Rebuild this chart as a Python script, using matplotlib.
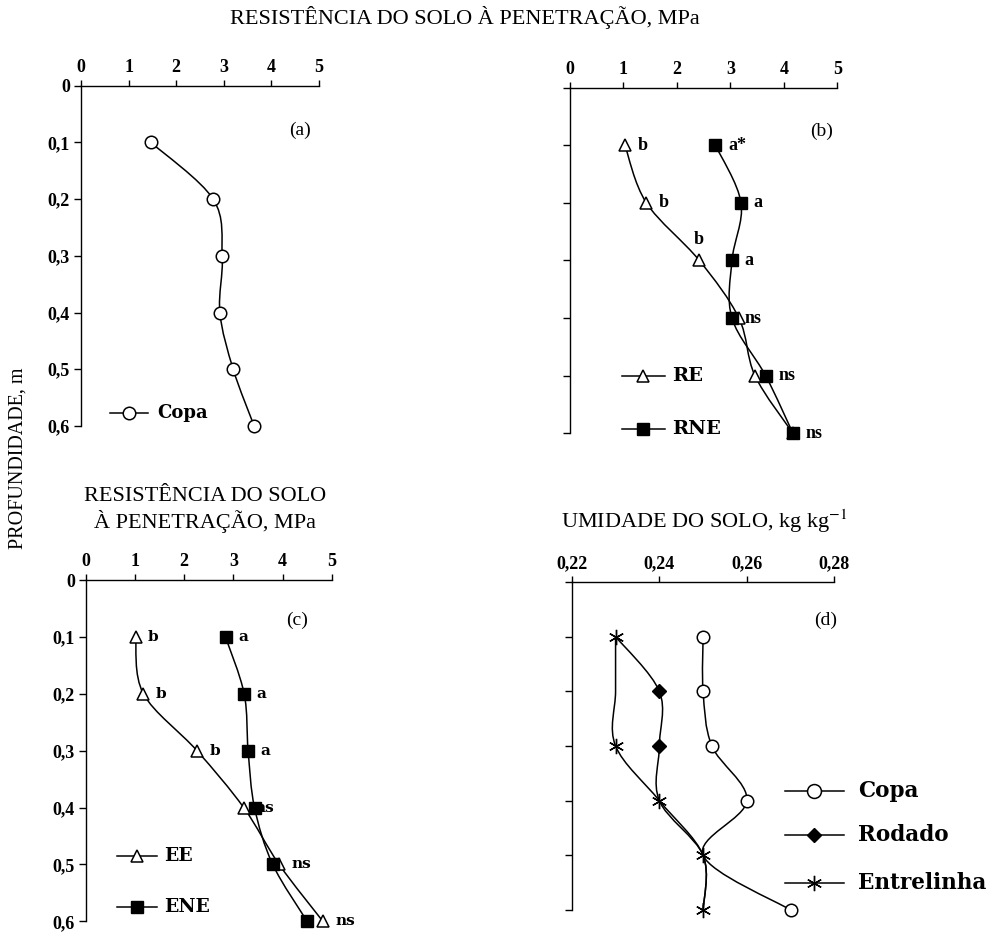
import matplotlib
matplotlib.use('Agg')
import matplotlib.pyplot as plt
from matplotlib.path import Path
from matplotlib.patches import PathPatch

plt.rcParams['font.family'] = ['Liberation Serif', 'DejaVu Serif']
plt.rcParams['mathtext.fontset'] = 'stix'

# profundidade (m)
depth = [0.1, 0.2, 0.3, 0.4, 0.5, 0.6]
depth_ticks = [0, 0.1, 0.2, 0.3, 0.4, 0.5, 0.6]
depth_labels = ['0', '0,1', '0,2', '0,3', '0,4', '0,5', '0,6']
res_ticks = [0, 1, 2, 3, 4, 5]
res_labels = ['0', '1', '2', '3', '4', '5']
hum_ticks = [0.22, 0.24, 0.26, 0.28]
hum_labels = ['0,22', '0,24', '0,26', '0,28']

# (a) resistencia, copa
copa_a = [1.47, 2.78, 2.97, 2.92, 3.20, 3.64]

# (b) rodado
re_b = [1.03, 1.43, 2.42, 3.16, 3.46, 4.17]
rne_b = [2.72, 3.20, 3.03, 3.03, 3.66, 4.17]
re_b_txt = ['b', 'b', 'b', 'ns', '', '']
rne_b_txt = ['a*', 'a', 'a', '', 'ns', 'ns']

# (c) entrelinha
ee_c = [1.01, 1.17, 2.26, 3.21, 3.93, 4.82]
ene_c = [2.84, 3.22, 3.30, 3.43, 3.80, 4.50]
ee_c_txt = ['b', 'b', 'b', '', 'ns', 'ns']
ene_c_txt = ['a', 'a', 'a', 'ns', '', '']

# (d) umidade
copa_d = [0.250, 0.250, 0.252, 0.260, 0.250, 0.270]
rodado_d = [0.230, 0.240, 0.240, 0.240, 0.250, 0.250]
entre_d = [0.230, 0.230, 0.230, 0.240, 0.250, 0.250]


def smooth(ax, x, y, lw=1.1):
    # curva suave tipo excel (bezier)
    pts = list(zip(x, y))
    n = len(pts)
    verts = [pts[0]]
    codes = [Path.MOVETO]
    for i in range(n - 1):
        p0 = pts[max(i - 1, 0)]
        p1 = pts[i]
        p2 = pts[i + 1]
        p3 = pts[min(i + 2, n - 1)]
        c1 = (p1[0] + (p2[0] - p0[0]) / 6, p1[1] + (p2[1] - p0[1]) / 6)
        c2 = (p2[0] - (p3[0] - p1[0]) / 6, p2[1] - (p3[1] - p1[1]) / 6)
        verts += [c1, c2, p2]
        codes += [Path.CURVE4] * 3
    ax.add_patch(PathPatch(Path(verts, codes), fill=False, lw=lw,
                           edgecolor='black', clip_on=False, zorder=2))


def setup(ax, ticks, labels, xlim, ylabels=True):
    ax.set_xlim(xlim)
    ax.set_ylim(0.6, 0)
    ax.spines['right'].set_visible(False)
    ax.spines['bottom'].set_visible(False)
    ax.xaxis.tick_top()
    ax.set_xticks(ticks)
    ax.set_xticklabels(labels, fontweight='bold', fontsize=13)
    ax.set_yticks(depth_ticks)
    if ylabels:
        ax.set_yticklabels(depth_labels, fontweight='bold', fontsize=13)
    else:
        ax.set_yticklabels([])
    ax.tick_params(direction='out', length=4, width=1, pad=3)
    ax.tick_params(axis='y', length=5)
    for s in ax.spines.values():
        s.set_linewidth(1)


def legend_entry(ax, x, y, label, fs=13, gap=7, fam='DejaVu Serif', **kw):
    x0, x1 = x
    ax.plot([x0, x1], [y, y], color='black', lw=1.1, transform=ax.transAxes,
            clip_on=False)
    ax.plot([(x0 + x1) / 2], [y], transform=ax.transAxes, clip_on=False,
            linestyle='none', **kw)
    ax.annotate(label, (x1, y), xycoords='axes fraction', xytext=(gap, 0),
                textcoords='offset points', fontsize=fs, fontweight='bold',
                va='center', ha='left', family=fam)


def letters(ax, x, txt, dx=9, fs=13, fam=None, special=None):
    special = special or {}
    for i, (xi, yi, t) in enumerate(zip(x, depth, txt)):
        if t:
            ax.annotate(t, (xi, yi), xytext=special.get(i, (dx, 0)),
                        textcoords='offset points', va='center', ha='left',
                        fontsize=fs, fontweight='bold', family=fam)


tri = dict(marker='^', markersize=9, markerfacecolor='white',
           markeredgecolor='black', markeredgewidth=1.1)
sq = dict(marker='s', markersize=9, markerfacecolor='black',
          markeredgecolor='black')
circ = dict(marker='o', markersize=9, markerfacecolor='white',
            markeredgecolor='black', markeredgewidth=1.1)

fig = plt.figure(figsize=(9.91, 9.32), dpi=100)

# (a)
ax = fig.add_axes([0.0817, 0.543, 0.240, 0.365])
setup(ax, res_ticks, res_labels, (0, 5))
smooth(ax, copa_a, depth)
ax.plot(copa_a, depth, linestyle='none', clip_on=False, zorder=3, **circ)
ax.text(0.92, 0.855, '(a)', transform=ax.transAxes, fontsize=14, ha='center')
legend_entry(ax, (0.12, 0.28), 0.038, 'Copa', fs=13, **circ)

# (b)
ax = fig.add_axes([0.575, 0.535, 0.270, 0.371])
setup(ax, res_ticks, res_labels, (0, 5), ylabels=False)
smooth(ax, re_b, depth)
smooth(ax, rne_b, depth)
ax.plot(re_b, depth, linestyle='none', clip_on=False, zorder=3, **tri)
ax.plot(rne_b, depth, linestyle='none', clip_on=False, zorder=3, **sq)
letters(ax, re_b, re_b_txt, special={2: (-4, 15), 3: (4, 0)})
letters(ax, rne_b, rne_b_txt)
ax.text(0.94, 0.86, '(b)', transform=ax.transAxes, fontsize=14, ha='center')
legend_entry(ax, (0.194, 0.355), 0.165, 'RE', fs=14, gap=5, **tri)
legend_entry(ax, (0.194, 0.355), 0.014, 'RNE', fs=14, gap=5, **sq)

# (c)
ax = fig.add_axes([0.0867, 0.0115, 0.248, 0.366])
setup(ax, res_ticks, res_labels, (0, 5))
smooth(ax, ee_c, depth)
smooth(ax, ene_c, depth)
ax.plot(ee_c, depth, linestyle='none', clip_on=False, zorder=3, **tri)
ax.plot(ene_c, depth, linestyle='none', clip_on=False, zorder=3, **sq)
letters(ax, ee_c, ee_c_txt, fam='DejaVu Serif', fs=11)
letters(ax, ene_c, ene_c_txt, fam='DejaVu Serif', fs=11, special={3: (0, 0)})
ax.text(0.86, 0.87, '(c)', transform=ax.transAxes, fontsize=14, ha='center')
legend_entry(ax, (0.126, 0.29), 0.192, 'EE', fs=13.5, gap=5, **tri)
legend_entry(ax, (0.126, 0.29), 0.041, 'ENE', fs=13.5, gap=5, **sq)

# (d)
ax = fig.add_axes([0.577, 0.0236, 0.265, 0.352])
setup(ax, hum_ticks, hum_labels, (0.22, 0.28), ylabels=False)
smooth(ax, copa_d, depth)
smooth(ax, rodado_d, depth)
smooth(ax, entre_d, depth)
dia = dict(marker='D', markersize=7.5, markerfacecolor='black',
           markeredgecolor='black')
star = dict(marker=(6, 2, 0), markersize=11, markeredgecolor='black',
            markeredgewidth=1.0)
ax.plot(copa_d, depth, linestyle='none', clip_on=False, zorder=3,
        markevery=[0, 1, 2, 3, 5], **circ)
ax.plot(rodado_d, depth, linestyle='none', clip_on=False, zorder=3,
        markevery=[1, 2], **dia)
ax.plot(entre_d, depth, linestyle='none', clip_on=False, zorder=3,
        markevery=[0, 2, 3, 4, 5], **star)
ax.text(0.965, 0.87, '(d)', transform=ax.transAxes, fontsize=14, ha='center')
legend_entry(ax, (0.81, 1.038), 0.363, 'Copa', fs=15.5, gap=10,
             **dict(circ, markersize=10))
legend_entry(ax, (0.81, 1.038), 0.229, 'Rodado', fs=15.5, gap=10, **dia)
legend_entry(ax, (0.81, 1.038), 0.082, 'Entrelinha', fs=15.5, gap=10, **star)

# titulos
fig.text(0.469, 0.981, 'RESISTÊNCIA DO SOLO À PENETRAÇÃO, MPa', fontsize=16,
         ha='center', va='center')
fig.text(0.207, 0.453, 'RESISTÊNCIA DO SOLO\nÀ PENETRAÇÃO, MPa', fontsize=16,
         ha='center', va='center', linespacing=1.2)
fig.text(0.711, 0.441, 'UMIDADE DO SOLO, kg kg$^{-1}$', fontsize=16,
         ha='center', va='center')
fig.text(0.018, 0.508, 'PROFUNDIDADE, m', fontsize=14.5, rotation=90,
         ha='center', va='center')

fig.savefig('out.png', dpi=100)
